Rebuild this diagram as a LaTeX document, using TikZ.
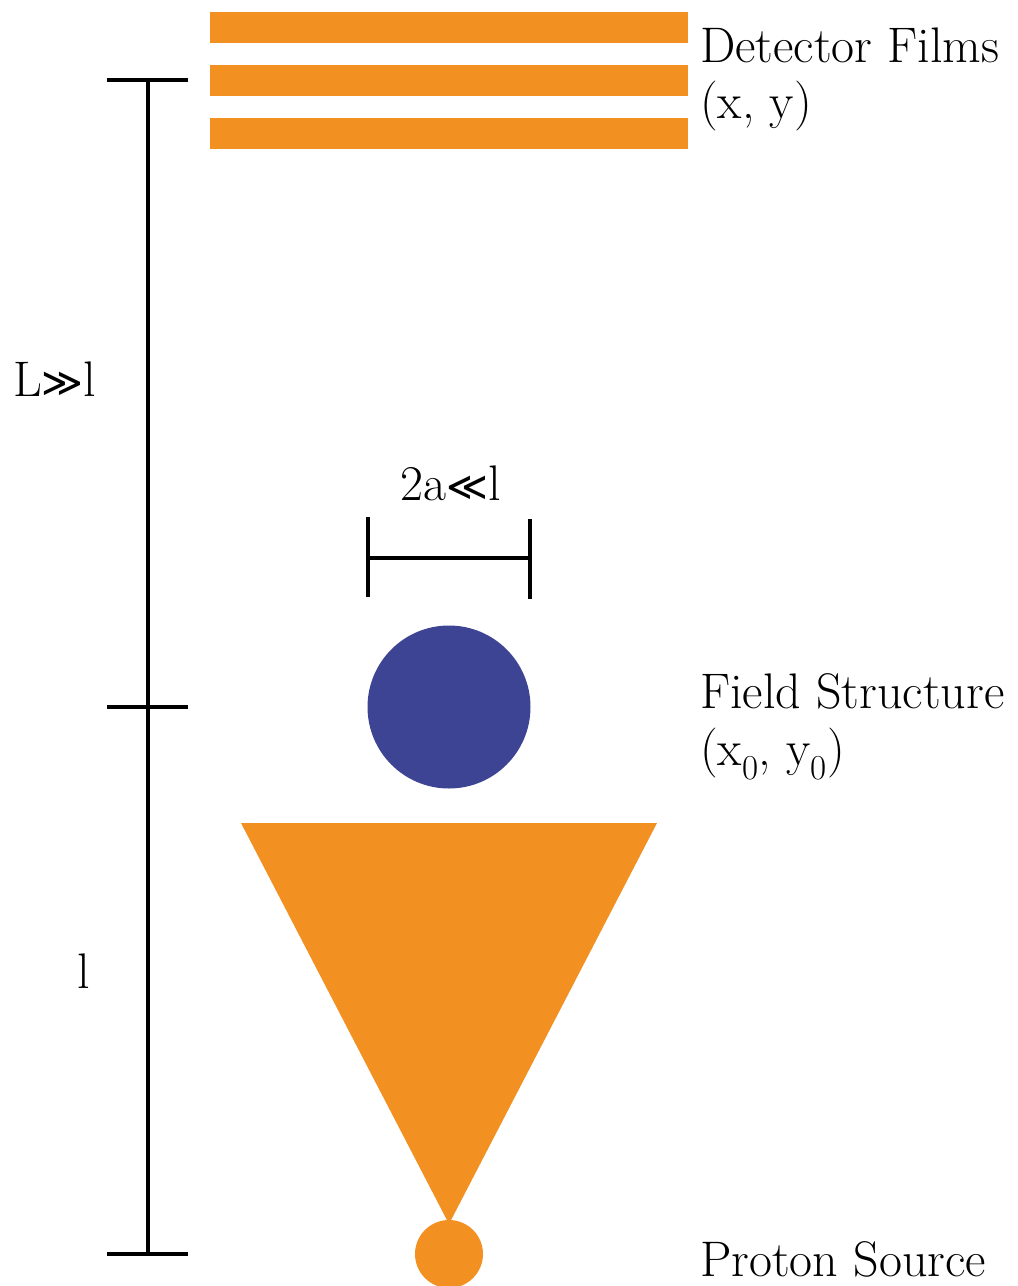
\documentclass[tikz,border=0pt]{standalone}
\usepackage{fontspec}
\newfontfamily\symfont{DejaVu Sans}
\usepackage{tikz}
\definecolor{beamorange}{RGB}{242,144,33}
\definecolor{fieldblue}{RGB}{61,68,148}
\begin{document}
\begin{tikzpicture}[x=1pt,y=-1pt,
  lbl/.style={inner sep=0pt,anchor=base west,font=\fontsize{50}{60}\selectfont},
  dimline/.style={line width=4pt,draw=black},
  film/.style={fill=beamorange,draw=none}]
\useasboundingbox (0,0) rectangle (1018,1286);
\clip (0,0) rectangle (1018,1286);
% detector films
\fill[film] (210,12) rectangle (688,43);
\fill[film] (210,65) rectangle (688,96);
\fill[film] (210,118) rectangle (688,149);
% vertical scale
\coordinate (top) at (148,80);
\coordinate (mid) at (148,707);
\coordinate (bot) at (148,1254);
\draw[dimline] (top) -- (bot);
\draw[dimline] (107,80) -- (188,80);
\draw[dimline] (107,707) -- (188,707);
\draw[dimline] (107,1254) -- (188,1254);
% 2a bracket
\coordinate (bl) at (368,558);
\coordinate (br) at (530,558);
\draw[dimline] (368,517) -- (368,597);
\draw[dimline] (530,519) -- (530,599);
\draw[dimline] (bl) -- (br);
% field structure
\fill[fieldblue] (449,707) circle (81.5);
% beam cone
\fill[beamorange] (241,823) -- (657,823) -- (449,1224) -- cycle;
% source
\fill[beamorange] (449,1254) circle (34);
% labels
\node[lbl] (det) at (700,62) {Detector Films};
\node[lbl] (detxy) at (700,118) {(x, y)};
\node[lbl] (field) at (700,708) {Field Structure};
\node[lbl] (fieldxy) at (700,765) {(x\textsubscript{0}, y\textsubscript{0})};
\node[lbl] (src) at (700,1276) {Proton Source};
\node[lbl] (Ll) at (13,396) {L{\symfont\fontsize{40}{48}\selectfont ≫}l};
\node[lbl] (l) at (77,988) {l};
\node[lbl,anchor=base] (al) at (451,500) {2a{\symfont\fontsize{40}{48}\selectfont ≪}l};
\end{tikzpicture}
\end{document}
